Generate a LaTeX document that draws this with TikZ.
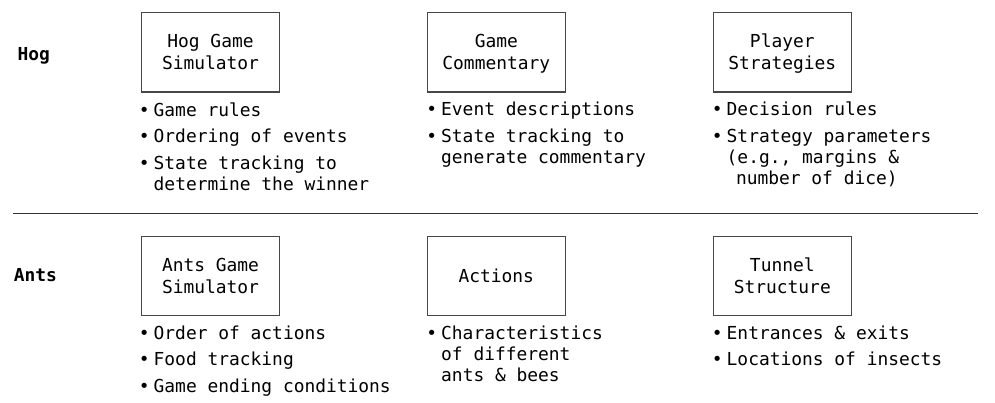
\documentclass[tikz,border=0pt]{standalone}
\usepackage{fontspec}
\setmonofont{DejaVu Sans Mono}
\usetikzlibrary{positioning}

\newcommand{\boxstrut}{\rule[-4.2pt]{0pt}{21.2pt}}
\newcommand{\itm}{\rule{0pt}{15pt}\hbox to 14pt{\hss•\hskip 4pt\relax}}
\newcommand{\cont}{\hspace*{14pt}}

\tikzset{
    part/.style={draw=black!72,line width=1.2pt,minimum width=137.6pt,minimum height=79.6pt,
        inner sep=0pt,align=center,font=\ttfamily\fontsize{17.9}{21.5}\selectfont},
    notes/.style={anchor=north west,align=left,inner sep=0pt,
        font=\ttfamily\fontsize{17.9}{21}\selectfont},
    project/.style={anchor=base west,inner sep=0pt,font=\ttfamily\bfseries\fontsize{17.9}{21}\selectfont}
}

\begin{document}
\begin{tikzpicture}[x=1pt,y=-1pt]
    \useasboundingbox (0,0) rectangle (995,402);
    % Hog
    \node[project] (hog) at (17.3,60) {Hog};
    \node[part] (hogsim) at (210.5,52.2) {\boxstrut Hog Game\\Simulator\boxstrut};
    \node[part] (commentary) at (496.3,52.2) {\boxstrut Game\\Commentary\boxstrut};
    \node[part] (strategies) at (782.3,52.2) {\boxstrut Player\\Strategies\boxstrut};
    \node[notes] (hogsimnotes) at (139.5,101.3) {%
        \itm Game rules\\[5.3pt]%
        \itm Ordering of events\\[5.3pt]%
        \itm State tracking to\\%
        \cont determine the winner};
    \node[notes] (commentarynotes) at (427,100.7) {%
        \itm Event descriptions\\[5.3pt]%
        \itm State tracking to\\%
        \cont generate commentary};
    \node[notes] (strategiesnotes) at (712.5,100.7) {%
        \itm Decision rules\\[5.3pt]%
        \itm Strategy parameters\\%
        \cont (e.g., margins \&\\%
        \hspace*{23.3pt}number of dice)};
    % separator
    \coordinate (sepleft) at (13,213.3);
    \coordinate (sepright) at (977.6,213.3);
    \draw[line width=1.2pt,black!80] (sepleft) -- (sepright);
    % Ants
    \node[project] (ants) at (13.7,281.7) {Ants};
    \node[part] (antssim) at (210.5,275.9) {\boxstrut Ants Game\\Simulator\boxstrut};
    \node[part] (actions) at (496.3,275.9) {\boxstrut Actions\boxstrut};
    \node[part] (tunnel) at (782.3,275.9) {\boxstrut Tunnel\\Structure\boxstrut};
    \node[notes] (antssimnotes) at (139.5,324.3) {%
        \itm Order of actions\\[5.3pt]%
        \itm Food tracking\\[5.3pt]%
        \itm Game ending conditions};
    \node[notes] (actionsnotes) at (427,324.3) {%
        \itm Characteristics\\%
        \cont of different\\%
        \cont ants \& bees};
    \node[notes] (tunnelnotes) at (712.5,324.3) {%
        \itm Entrances \& exits\\[5.3pt]%
        \itm Locations of insects};
\end{tikzpicture}
\end{document}
